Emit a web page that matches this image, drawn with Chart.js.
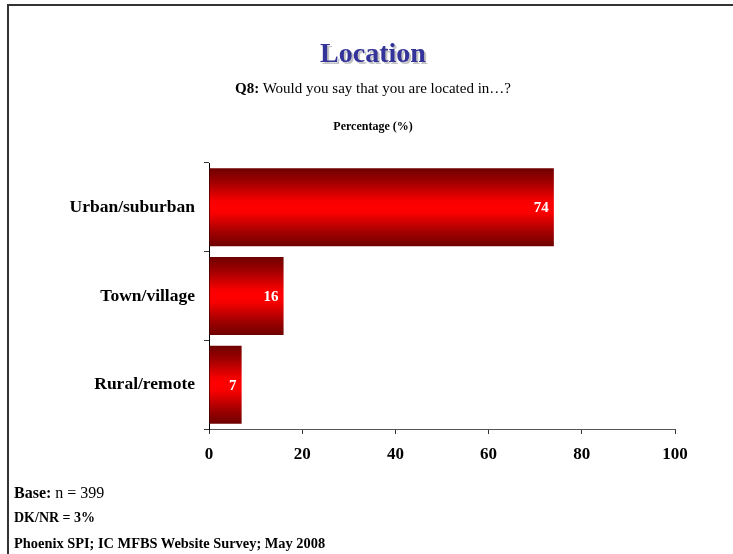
<!DOCTYPE html>
<html>
<head>
<meta charset="utf-8">
<script src="https://cdn.jsdelivr.net/npm/chart.js@4/dist/chart.umd.min.js"></script>
<style>
    html, body { margin: 0; padding: 0; background: #fff; }
    #page { position: relative; width: 733px; height: 554px; overflow: hidden; font-family: "Liberation Serif", "Times New Roman", serif; color: #000; }
    #frame { position: absolute; left: 7px; top: 4px; right: -4px; bottom: -4px; border-top: 2px solid #333; border-left: 2px solid #333; }
    #chart-box { position: absolute; left: 0; top: 0; width: 733px; height: 554px; }
    .center { position: absolute; left: 0; width: 746px; text-align: center; white-space: nowrap; }
    #title { top: 37px; font-size: 28px; font-weight: bold; color: #333399; text-shadow: 2px 2px 0 #c4c4c4; }
    #question { top: 80px; font-size: 15px; }
    #unit { top: 119px; font-size: 12px; font-weight: bold; }
    .note { position: absolute; left: 14px; white-space: nowrap; }
    #base { top: 484px; font-size: 16px; }
    #dknr { top: 510px; font-size: 14px; font-weight: bold; }
    #source { top: 535px; font-size: 14.4px; font-weight: bold; }
</style>
</head>
<body>
<div id="page">
    <div id="frame"></div>
    <div id="chart-box"><canvas id="location-chart" width="733" height="554"></canvas></div>
    <div id="title" class="center">Location</div>
    <div id="question" class="center"><b>Q8:</b> Would you say that you are located in…?</div>
    <div id="unit" class="center">Percentage (%)</div>
    <div id="base" class="note"><b>Base:</b> n = 399</div>
    <div id="dknr" class="note">DK/NR = 3%</div>
    <div id="source" class="note">Phoenix SPI; IC MFBS Website Survey; May 2008</div>
</div>
<script>
// Survey answers, share of respondents per location type
const categories = ['Urban/suburban', 'Town/village', 'Rural/remote'];
const percentages = [74, 16, 7];
const axisTicks = [0, 20, 40, 60, 80, 100];

const serif = '"Liberation Serif", "Times New Roman", serif';
const barShare = 0.88;

// Dark-bright-dark vertical red gradient, built per bar from the category scale
function barFill(context) {
    const chart = context.chart;
    const yScale = chart.scales.y;
    if (!chart.chartArea || !yScale || context.dataIndex === undefined) {
        return '#e00000';
    }
    const center = yScale.getPixelForValue(context.dataIndex);
    const half = (yScale.height / categories.length) * barShare / 2;
    const g = chart.ctx.createLinearGradient(0, center - half, 0, center + half);
    g.addColorStop(0, '#6e0000');
    g.addColorStop(0.2, '#a80000');
    g.addColorStop(0.42, '#f80000');
    g.addColorStop(0.5, '#ff0000');
    g.addColorStop(0.58, '#f80000');
    g.addColorStop(0.8, '#a80000');
    g.addColorStop(1, '#6e0000');
    return g;
}

// White value labels just inside the end of every bar
const valueLabels = {
    id: 'valueLabels',
    afterDatasetsDraw(chart) {
        const ctx = chart.ctx;
        const values = chart.data.datasets[0].data;
        ctx.save();
        ctx.fillStyle = '#fff';
        ctx.font = 'bold 15px ' + serif;
        ctx.textAlign = 'right';
        ctx.textBaseline = 'middle';
        chart.getDatasetMeta(0).data.forEach((bar, i) => {
            ctx.fillText(String(values[i]), bar.x - 5, bar.y + 1);
        });
        ctx.restore();
    },
};

const ctx = document.getElementById('location-chart').getContext('2d');
new Chart(ctx, {
    type: 'bar',
    data: {
        labels: categories,
        datasets: [{
            data: percentages,
            backgroundColor: barFill,
            borderWidth: 0,
            barPercentage: barShare,
            categoryPercentage: 1,
        }],
    },
    options: {
        indexAxis: 'y',
        responsive: false,
        animation: false,
        events: [],
        layout: { padding: { left: 0, top: 163, right: 58, bottom: 0 } },
        plugins: {
            legend: { display: false },
            tooltip: { enabled: false },
        },
        scales: {
            x: {
                min: 0,
                max: 100,
                afterBuildTicks(scale) {
                    scale.ticks = axisTicks.map((v) => ({ value: v }));
                },
                afterFit(scale) {
                    scale.height = 554 - 429;
                },
                ticks: {
                    color: '#000',
                    padding: 10,
                    font: { family: serif, size: 17, weight: 'bold' },
                },
                grid: {
                    drawOnChartArea: false,
                    drawTicks: true,
                    tickLength: 5,
                    color: '#333',
                },
                border: { display: true, color: '#555', width: 1 },
            },
            y: {
                afterFit(scale) {
                    scale.width = 209;
                },
                ticks: {
                    color: '#000',
                    padding: 9,
                    font: { family: serif, size: 17.5, weight: 'bold' },
                },
                grid: {
                    offset: true,
                    drawOnChartArea: false,
                    drawTicks: true,
                    tickLength: 5,
                    color: '#333',
                },
                border: { display: true, color: '#000', width: 1 },
            },
        },
    },
    plugins: [valueLabels],
});
</script>
</body>
</html>
